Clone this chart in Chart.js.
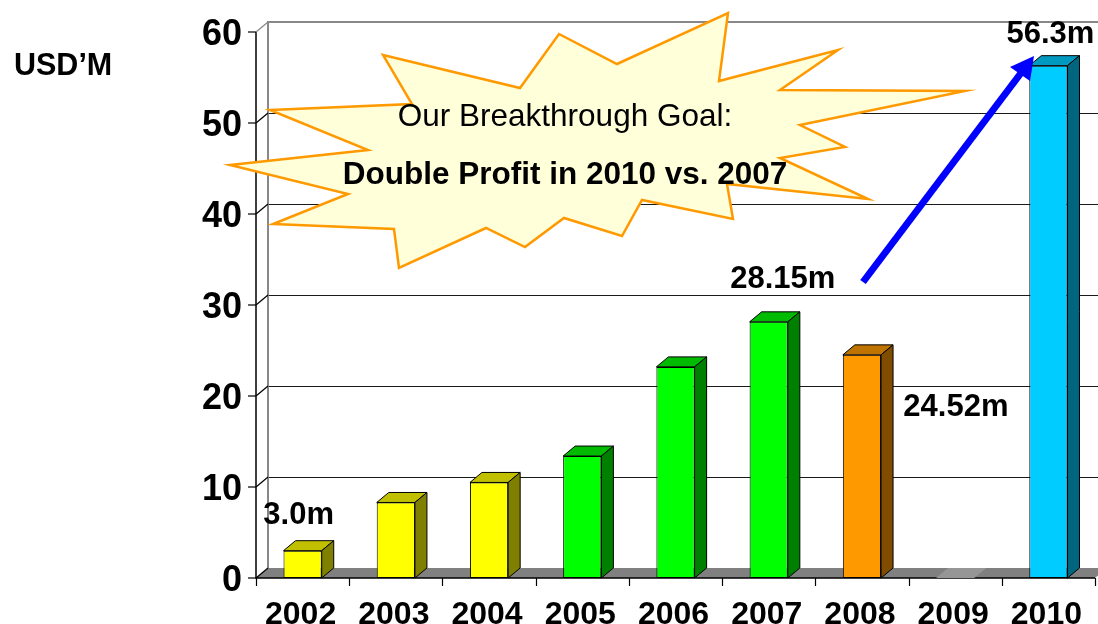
<!DOCTYPE html>
<html>
<head>
<meta charset="utf-8">
<script src="https://cdn.jsdelivr.net/npm/chart.js@4/dist/chart.umd.min.js"></script>
<style>
  body { margin: 0; background: #fff; }
  #wrap { width: 1098px; height: 624px; }
</style>
</head>
<body>
<div id="wrap"><canvas id="profitChart" width="1098" height="624"></canvas></div>
<script>
const years = ['2002', '2003', '2004', '2005', '2006', '2007', '2008', '2009', '2010'];
const profit = [3.0, 8.3, 10.5, 13.4, 23.2, 28.15, 24.52, 0, 56.3];
const valueLabels = ['3.0m', '', '', '', '', '28.15m', '24.52m', '', '56.3m'];
const yTicks = [0, 10, 20, 30, 40, 50, 60];
const unitLabel = 'USD\u2019M';
const goalTitle = 'Our Breakthrough Goal:';
const goalText = 'Double Profit in 2010 vs. 2007';

// face colours per bar: front / top / side
const frontColors = ['#FFFF00', '#FFFF00', '#FFFF00', '#00FF00', '#00FF00', '#00FF00', '#FF9900', '#999999', '#00CCFF'];
const topColors = ['#C0C000', '#C0C000', '#C0C000', '#00BB00', '#00BB00', '#00BB00', '#BF7300', '#969696', '#0099C0'];
const sideColors = ['#808000', '#808000', '#808000', '#008000', '#008000', '#008000', '#7F4C00', '#969696', '#006680'];

const FONT = '"Liberation Sans", Arial, sans-serif';
const DX = 12, DY = 10;

const threeD = {
    id: 'threeD',
    beforeDatasetsDraw(chart) {
        const ctx = chart.ctx;
        const ys = chart.scales.y;
        const xs = chart.scales.x;
        const ca = chart.chartArea;
        const y0 = ys.getPixelForValue(0);
        const yTop = ys.getPixelForValue(60);
        ctx.save();

        // back wall grid lines
        ctx.lineWidth = 1;
        ctx.strokeStyle = '#1a1a1a';
        yTicks.forEach(v => {
            if (v === 0 || v === 60) return;
            const y = Math.round(ys.getPixelForValue(v) - DY) + 0.5;
            ctx.beginPath();
            ctx.moveTo(ca.left + DX, y);
            ctx.lineTo(chart.width, y);
            ctx.stroke();
        });
        // wall border (top + left)
        ctx.strokeStyle = '#888';
        ctx.lineWidth = 2;
        ctx.beginPath();
        ctx.moveTo(ca.left + DX, y0 - DY);
        ctx.lineTo(ca.left + DX, yTop - DY);
        ctx.lineTo(chart.width, yTop - DY);
        ctx.stroke();

        // floor
        ctx.fillStyle = '#808080';
        ctx.beginPath();
        ctx.moveTo(ca.left, y0);
        ctx.lineTo(ca.right, y0);
        ctx.lineTo(ca.right + DX, y0 - DY);
        ctx.lineTo(ca.left + DX, y0 - DY);
        ctx.closePath();
        ctx.fill();

        // front axes
        ctx.strokeStyle = '#000';
        ctx.lineWidth = 1.5;
        ctx.beginPath();
        ctx.moveTo(ca.left, yTop);
        ctx.lineTo(ca.left, y0);
        ctx.lineTo(ca.right, y0);
        ctx.stroke();

        // y ticks, connectors, labels
        ctx.lineWidth = 1.2;
        ctx.fillStyle = '#000';
        ctx.font = 'bold 36px ' + FONT;
        ctx.textAlign = 'right';
        ctx.textBaseline = 'alphabetic';
        yTicks.forEach(v => {
            const y = ys.getPixelForValue(v);
            ctx.strokeStyle = '#000';
            ctx.beginPath();
            ctx.moveTo(ca.left - 8, y);
            ctx.lineTo(ca.left, y);
            ctx.stroke();
            ctx.strokeStyle = v === 60 ? '#888' : '#000';
            ctx.beginPath();
            ctx.moveTo(ca.left, y);
            ctx.lineTo(ca.left + DX, y - DY);
            ctx.stroke();
            ctx.fillText(String(v), ca.left - 14, y + 13);
        });

        // x ticks and labels
        ctx.strokeStyle = '#000';
        const step = (ca.right - ca.left) / years.length;
        for (let i = 0; i <= years.length; i++) {
            const x = Math.round(ca.left + i * step) + 0.5;
            ctx.beginPath();
            ctx.moveTo(x, y0);
            ctx.lineTo(x, y0 + 8);
            ctx.stroke();
        }
        ctx.font = 'bold 32px ' + FONT;
        ctx.textAlign = 'center';
        years.forEach((yr, i) => {
            ctx.fillText(yr, xs.getPixelForValue(i) - 2, 624);
        });

        // unit label
        ctx.font = 'bold 30.5px ' + FONT;
        ctx.textAlign = 'left';
        ctx.fillText(unitLabel, 14, 75);
        ctx.restore();
    },
    afterDatasetsDraw(chart) {
        const ctx = chart.ctx;
        const meta = chart.getDatasetMeta(0);
        ctx.save();
        ctx.lineWidth = 1;
        ctx.strokeStyle = '#000';
        meta.data.forEach((bar, i) => {
            const l = bar.x - bar.width / 2;
            const r = bar.x + bar.width / 2;
            const t = bar.y, b = bar.base;
            const flat = Math.abs(b - t) < 1;
            // top
            ctx.fillStyle = topColors[i];
            ctx.beginPath();
            ctx.moveTo(l, t);
            ctx.lineTo(l + DX, t - DY);
            ctx.lineTo(r + DX, t - DY);
            ctx.lineTo(r, t);
            ctx.closePath();
            ctx.fill();
            if (!flat) ctx.stroke();
            if (flat) return;
            // side
            ctx.fillStyle = sideColors[i];
            ctx.beginPath();
            ctx.moveTo(r, t);
            ctx.lineTo(r + DX, t - DY);
            ctx.lineTo(r + DX, b - DY);
            ctx.lineTo(r, b);
            ctx.closePath();
            ctx.fill();
            ctx.stroke();
        });

        // starburst callout
        const burst = [[383, 55], [520, 88], [559, 34], [617, 64], [728, 13], [719, 81], [838, 50], [780, 90],
            [965, 91], [800, 125], [845, 147], [780, 158], [868, 199], [727, 184], [733, 219], [642, 200],
            [622, 236], [564, 218], [525, 247], [486, 228], [399, 268], [394, 229], [273, 224], [348, 194],
            [230, 165], [368, 150], [270, 110], [412, 104]];
        ctx.beginPath();
        burst.forEach((p, k) => k ? ctx.lineTo(p[0], p[1]) : ctx.moveTo(p[0], p[1]));
        ctx.closePath();
        ctx.fillStyle = '#FFFFD9';
        ctx.fill();
        ctx.strokeStyle = '#FF9900';
        ctx.lineWidth = 2.5;
        ctx.lineJoin = 'miter';
        ctx.stroke();
        ctx.fillStyle = '#000';
        ctx.textAlign = 'center';
        ctx.font = '31.5px ' + FONT;
        ctx.fillText(goalTitle, 565, 126);
        ctx.font = 'bold 31.5px ' + FONT;
        ctx.fillText(goalText, 565, 184);

        // value labels
        const offs = { 0: [-4, -27], 5: [14, -34], 6: [94, 61], 8: [2, -23] };
        ctx.font = 'bold 31px ' + FONT;
        meta.data.forEach((bar, i) => {
            if (!valueLabels[i]) return;
            const o = offs[i] || [0, -12];
            ctx.fillText(valueLabels[i], bar.x + o[0], bar.y + o[1]);
        });

        // arrow
        ctx.strokeStyle = '#0000FF';
        ctx.fillStyle = '#0000FF';
        ctx.lineWidth = 7;
        ctx.lineCap = 'butt';
        ctx.beginPath();
        ctx.moveTo(863, 282);
        ctx.lineTo(1021, 73);
        ctx.stroke();
        ctx.beginPath();
        ctx.moveTo(1034, 56);
        ctx.lineTo(1010, 67);
        ctx.lineTo(1030, 81);
        ctx.closePath();
        ctx.fill();
        ctx.restore();
    }
};

new Chart(document.getElementById('profitChart'), {
    type: 'bar',
    data: {
        labels: years,
        datasets: [{
            data: profit,
            backgroundColor: frontColors,
            borderColor: '#000',
            borderWidth: profit.map(v => v === 0 ? 0 : 1),
            borderSkipped: false,
            barPercentage: 0.41,
            categoryPercentage: 1
        }]
    },
    options: {
        responsive: false,
        animation: false,
        layout: { padding: { left: 256, right: 3, top: 32, bottom: 46 } },
        plugins: { legend: { display: false }, tooltip: { enabled: false } },
        scales: {
            x: { display: false },
            y: { display: false, min: 0, max: 60 }
        }
    },
    plugins: [threeD]
});
</script>
</body>
</html>
